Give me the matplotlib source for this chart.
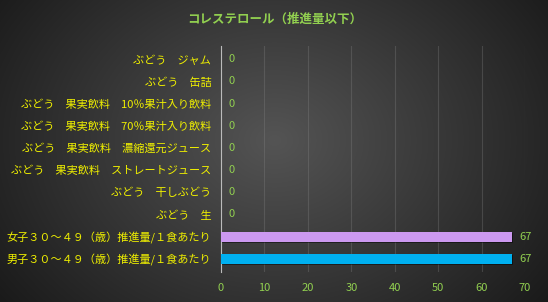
import numpy as np
import matplotlib.pyplot as plt

plt.rcParams['font.family'] = ['Noto Sans CJK JP', 'DejaVu Sans']

# 下から上の順
labels = [
    "男子３０～４９（歳）推進量/１食あたり",
    "女子３０～４９（歳）推進量/１食あたり",
    "ぶどう　生",
    "ぶどう　干しぶどう",
    "ぶどう　果実飲料　ストレートジュース",
    "ぶどう　果実飲料　濃縮還元ジュース",
    "ぶどう　果実飲料　70％果汁入り飲料",
    "ぶどう　果実飲料　10％果汁入り飲料",
    "ぶどう　缶詰",
    "ぶどう　ジャム",
]
values = [67, 67, 0, 0, 0, 0, 0, 0, 0, 0]
bar_colors = ["#00B0F0", "#CC99F0"] + ["#CC99F0"] * 8
x_ticks = [0, 10, 20, 30, 40, 50, 60, 70]

fig = plt.figure(figsize=(5.48, 3.02), dpi=100)

# 背景のグラデーション
bg = fig.add_axes([0, 0, 1, 1], zorder=-10)
yy, xx = np.mgrid[0:302, 0:548]
r = np.sqrt(((xx - 274) / 330.0) ** 2 + ((yy - 140) / 260.0) ** 2)
shade = np.clip(0.33 - 0.22 * r, 0.08, 0.33)
bg.imshow(np.dstack([shade] * 3), aspect='auto', extent=[0, 1, 0, 1])
bg.axis('off')

ax = fig.add_axes([221 / 548, 30 / 302, 304 / 548, 226 / 302])
ax.patch.set_alpha(0)
y = np.arange(len(labels))

# 影
ax.barh(y - 0.07, values, height=0.45, color='black', alpha=0.45, left=0.3, zorder=2)
ax.barh(y, values, height=0.45, color=bar_colors, zorder=3)

for yi, v in zip(y, values):
    ax.text(v + 1.8, yi, str(v), color='#92D050', fontsize=8, va='center', ha='left')

ax.set_xlim(0, 70)
ax.set_ylim(-0.6, len(labels) - 0.4)
ax.set_xticks(x_ticks)
ax.set_yticks(y)
ax.set_yticklabels(labels, color='#F0F000', fontsize=8)
ax.tick_params(axis='x', colors='#92D050', labelsize=8, length=0, pad=8)
ax.tick_params(axis='y', length=0, pad=7)
ax.grid(axis='x', color='#888888', alpha=0.3, linewidth=0.8)
ax.set_axisbelow(True)
for s in ['top', 'right', 'bottom']:
    ax.spines[s].set_visible(False)
ax.spines['left'].set_color('#BBBBBB')

fig.text(0.502, 0.937, "コレステロール（推進量以下）", color='#92D050',
         fontsize=9, fontweight='bold', ha='center', va='center')

fig.savefig('out.png', dpi=100)
